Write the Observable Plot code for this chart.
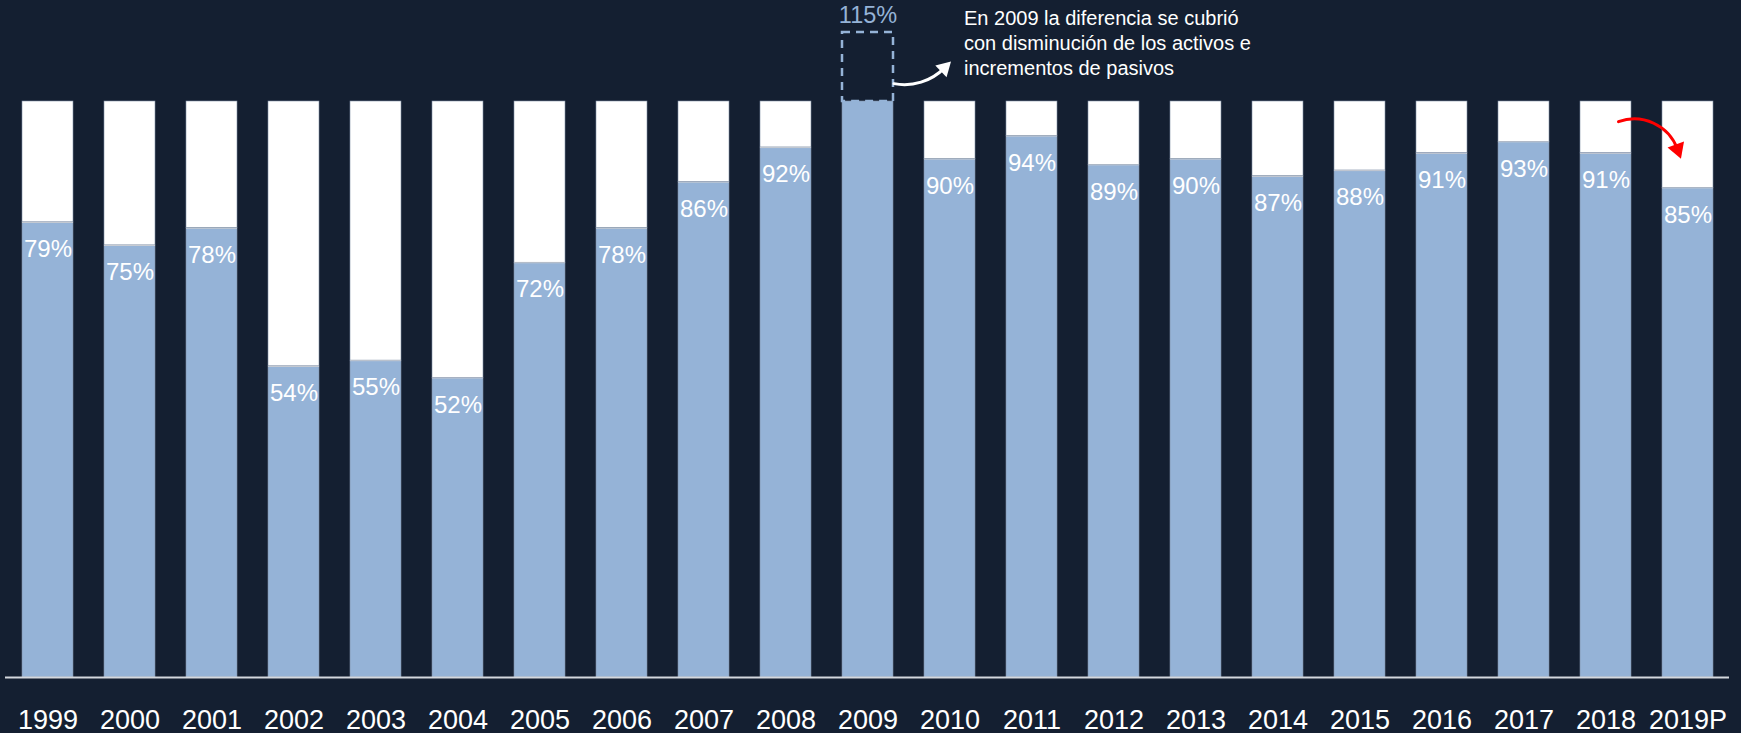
<!DOCTYPE html>
<html>
<head>
<meta charset="utf-8">
<script src="https://cdn.jsdelivr.net/npm/d3@7"></script>
<script src="https://cdn.jsdelivr.net/npm/@observablehq/plot@0.6"></script>
<style>
  html, body { margin: 0; padding: 0; background: #141f31; }
  #chart { width: 1741px; height: 733px; }
  svg { font-family: "Liberation Sans", Arial, sans-serif; }
</style>
</head>
<body>
<div id="chart"></div>
<script>
const years = ["1999","2000","2001","2002","2003","2004","2005","2006","2007","2008","2009","2010","2011","2012","2013","2014","2015","2016","2017","2018","2019P"];
const values = [79,75,78,54,55,52,72,78,86,92,115,90,94,89,90,87,88,91,93,91,85];
const fullShare = 100;
const dashTop = 112;
const noteText = "En 2009 la diferencia se cubrió\ncon disminución de los activos e\nincrementos de pasivos";
const highlightYear = "2009";

const rows = years.map((year, i) => ({year, value: values[i], shown: Math.min(values[i], fullShare)}));
const blue = "#95b3d7";

// shift the two ends of an arrow by pixel offsets after the scales have placed them
function shiftEnds(dx1, dx2) {
  return (index, scales, values, dimensions, context, next) => {
    const v = {...values,
      x1: Float64Array.from(values.x1, x => x + dx1),
      x2: Float64Array.from(values.x2, x => x + dx2)};
    return next(index, scales, v, dimensions, context);
  };
}

const whiteArrow = [{a: "2009", b: "2010", y1: 103.1, y2: 105.8}];
const redArrow = [{a: "2018", b: "2019P", y1: 96.5, y2: 91.7}];

const plot = Plot.plot({
  width: 1741,
  height: 733,
  marginLeft: 5,
  marginRight: 12,
  marginTop: 101,
  marginBottom: 56,
  style: {background: "#141f31", color: "white", fontFamily: "Liberation Sans, Arial, sans-serif", overflow: "visible"},
  x: {domain: years, paddingInner: 0.38, paddingOuter: 0.19, label: null},
  y: {domain: [0, fullShare], axis: null},
  marks: [
    Plot.barY(rows, {x: "year", y1: "shown", y2: fullShare, fill: "white", stroke: "#8090a6", strokeWidth: 0.6}),
    Plot.barY(rows, {x: "year", y1: 0, y2: "shown", fill: blue, stroke: "#8090a6", strokeWidth: 0.6}),
    Plot.ruleY(rows.filter(d => d.value < fullShare), {x1: "year", x2: "year", y: "shown", stroke: "#c6cbd3"}),
    Plot.rect(rows.filter(d => d.year === highlightYear), {x: "year", y1: fullShare, y2: dashTop, fill: "none", stroke: blue, strokeWidth: 2.5, strokeDasharray: "8,6"}),
    Plot.text(rows.filter(d => d.year === highlightYear), {x: "year", y: "value", text: d => d.value + "%", fill: blue, fontSize: 23.5, lineAnchor: "middle"}),
    Plot.text(rows.filter(d => d.value <= fullShare), {x: "year", y: "value", text: d => d.value + "%", fill: "white", fontSize: 24, dy: 27, lineAnchor: "middle"}),
    Plot.ruleY([0], {stroke: "#d4d8de", strokeWidth: 2}),
    Plot.axisX({tickSize: 0, tickPadding: 32, fontSize: 27, fill: "white", label: null}),
    Plot.arrow(whiteArrow, {x1: "a", x2: "b", y1: "y1", y2: "y2", bend: -28, stroke: "white", strokeWidth: 3, headLength: 0, render: shiftEnds(26, -5.7)}),
    Plot.dot(whiteArrow, {x: "b", y: "y2", dx: -5.7, symbol: "triangle", r: 6, rotate: 46, fill: "white", stroke: "none"}),
    Plot.text([{x: "2010"}], {x: "x", y: 116.4, text: () => noteText, textAnchor: "start", lineAnchor: "top", dx: 14, fill: "white", fontSize: 20, lineHeight: 1.25}),
    Plot.arrow(redArrow, {x1: "a", x2: "b", y1: "y1", y2: "y2", bend: 45, stroke: "#ff0000", strokeWidth: 3, headLength: 0, render: shiftEnds(12.5, -10.5)}),
    Plot.dot(redArrow, {x: "b", y: "y2", dx: -10.5, symbol: "triangle", r: 6.5, rotate: 160, fill: "#ff0000", stroke: "none"})
  ]
});

document.getElementById("chart").appendChild(plot);
</script>
</body>
</html>
